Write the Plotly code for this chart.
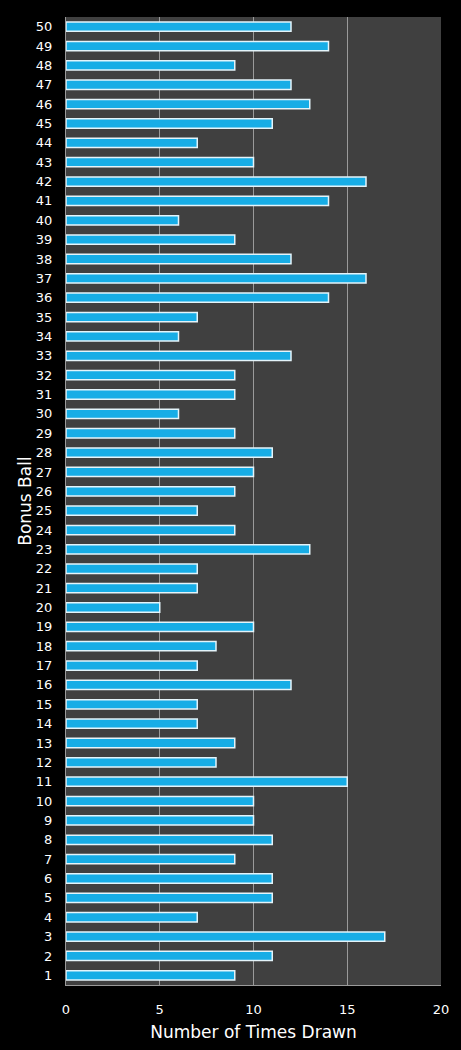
import plotly.graph_objects as go

balls = [str(i) for i in range(1, 51)]
times_drawn = [9, 11, 17, 7, 11, 11, 9, 11, 10, 10,
               15, 8, 9, 7, 7, 12, 7, 8, 10, 5,
               7, 7, 13, 9, 7, 9, 10, 11, 9, 6,
               9, 9, 12, 6, 7, 14, 16, 12, 9, 6,
               14, 16, 10, 7, 11, 13, 12, 9, 14, 12]
x_ticks = [0, 5, 10, 15, 20]

fig = go.Figure(go.Bar(
    x=times_drawn, y=balls, orientation="h",
    marker=dict(color="#17ade6", line=dict(color="#e4f4fa", width=1.5)),
))

fig.update_layout(
    width=461, height=1050,
    paper_bgcolor="#000000", plot_bgcolor="#404040",
    margin=dict(l=66, r=20, t=17, b=65),
    bargap=0.52, showlegend=False,
    font=dict(family="DejaVu Sans", color="#ffffff", size=13),
    annotations=[dict(
        text="Bonus Ball", textangle=-90, showarrow=False,
        xref="paper", yref="paper", x=-0.11, y=0.5,
        xanchor="center", yanchor="middle",
        font=dict(size=17, color="#ffffff"),
    )],
)
fig.update_xaxes(
    range=[0, 20], tickvals=x_ticks, showgrid=True, gridcolor="#9a9a9a", gridwidth=1,
    zeroline=False, showline=True, linecolor="#9a9a9a", linewidth=1,
    ticks="", tickfont=dict(size=13, color="#ffffff"), ticklabelstandoff=12,
    title=dict(text="Number of Times Drawn", font=dict(size=17, color="#ffffff"), standoff=10),
)
fig.update_yaxes(
    type="category", categoryorder="array", categoryarray=balls,
    showgrid=False, showline=True, linecolor="#9a9a9a", linewidth=1,
    ticks="", tickfont=dict(size=13, color="#ffffff"), ticklabelstandoff=10,
)

fig.write_html("out.html")
